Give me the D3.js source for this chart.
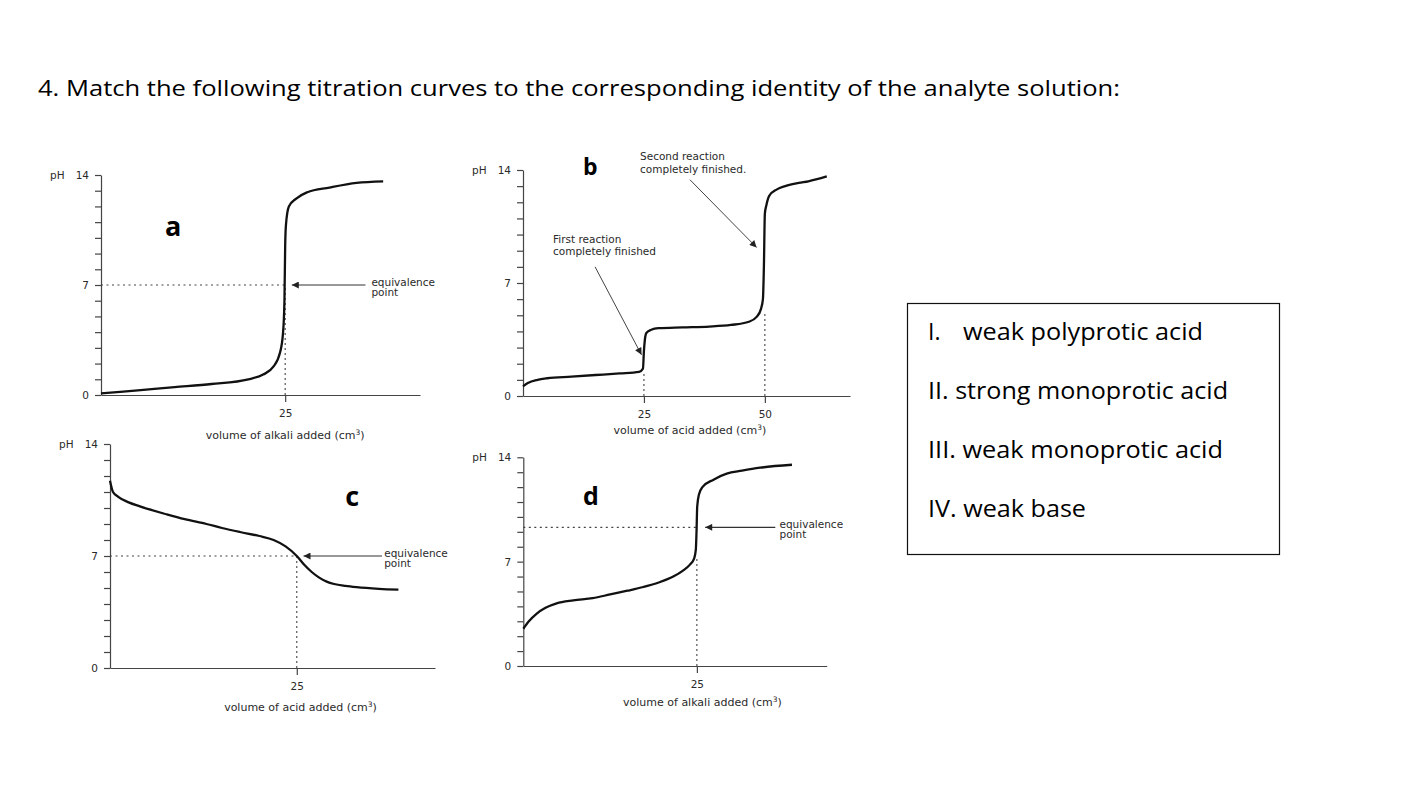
<!DOCTYPE html>
<html>
<head>
<meta charset="utf-8">
<script src="https://cdn.jsdelivr.net/npm/d3@7"></script>
<style>
  body { margin: 0; background: #fff; }
  svg { display: block; }
  .small { font-family: "DejaVu Sans", sans-serif; font-size: 10.5px; fill: #2a2a2a; }
  .axtitle { font-family: "DejaVu Sans", sans-serif; font-size: 11px; fill: #2a2a2a; }
  .tick text { font-family: "DejaVu Sans", sans-serif; font-size: 10.5px; fill: #2a2a2a; }
  .tick line, .domain { stroke: #444; stroke-width: 1.2; }
</style>
</head>
<body>
<svg width="1402" height="812"></svg>
<script>
// question text
const titleText = "4. Match the following titration curves to the corresponding identity of the analyte solution:";
const choiceNums = ["I.", "II.", "III.", "IV."];
const choiceNames = ["weak polyprotic acid", "strong monoprotic acid", "weak monoprotic acid", "weak base"];

// curve a : strong acid + alkali
const aVol = [0, 5, 10, 15, 20, 22, 23.4, 24.3, 24.7, 24.9, 25.0, 25.1, 25.5, 26.5, 28, 31, 34.7, 38.3];
const aPH  = [0.1, 0.3, 0.5, 0.7, 1.0, 1.3, 1.8, 2.7, 3.9, 6.0, 9.5, 10.8, 12.0, 12.5, 12.9, 13.2, 13.5, 13.6];

// curve b : two steps
const bVol = [0, 1, 3, 5, 10, 15, 20, 24, 24.8, 25.0, 25.2, 25.5, 26.5, 28, 33, 38.5, 43, 46.7, 48.3, 49.2, 49.6, 49.8, 50.0, 50.3, 50.9, 52.5, 54.2, 57, 59, 62.8];
const bPH  = [0.6, 0.8, 1.0, 1.1, 1.2, 1.3, 1.4, 1.5, 1.7, 2.8, 3.5, 3.9, 4.1, 4.2, 4.25, 4.3, 4.4, 4.6, 4.9, 5.4, 6.0, 8.0, 11.3, 11.8, 12.4, 12.8, 13.0, 13.2, 13.3, 13.6];

// curve c : base + acid
const cVol = [0, 0.4, 1.1, 2.5, 4, 7.6, 10, 12.9, 15, 17.4, 20, 21.9, 23.5, 25, 26, 27, 28, 29, 30, 31.5, 33, 36, 38.6];
const cPH  = [11.7, 11.0, 10.7, 10.35, 10.1, 9.6, 9.3, 9.0, 8.75, 8.5, 8.25, 8.0, 7.6, 7.0, 6.45, 6.0, 5.65, 5.4, 5.25, 5.13, 5.05, 4.95, 4.9];

// curve d : weak acid + alkali
const dVol = [0, 0.8, 1.9, 3.2, 4.8, 7.2, 10, 12.5, 15, 17.3, 19.5, 21.6, 23, 24, 24.6, 24.85, 24.95, 25.05, 25.3, 25.8, 27.4, 29.3, 31.5, 34.1, 38.7];
const dPH  = [2.5, 3.0, 3.5, 3.9, 4.2, 4.4, 4.55, 4.8, 5.05, 5.3, 5.6, 6.0, 6.4, 6.8, 7.2, 7.8, 9.0, 10.7, 11.5, 12.0, 12.5, 12.9, 13.1, 13.3, 13.5];

const phTicks = d3.range(0, 15);
const phLabels = [0, 7, 14];

const svg = d3.select("svg");

svg.append("defs").append("marker")
    .attr("id", "arrow")
    .attr("viewBox", "0 -5 10 10")
    .attr("refX", 10)
    .attr("refY", 0)
    .attr("markerWidth", 10)
    .attr("markerHeight", 7)
    .attr("markerUnits", "userSpaceOnUse")
    .attr("orient", "auto")
    .append("path")
    .attr("d", "M0,-5L10,0L0,5Z")
    .attr("fill", "#222");

// title
svg.append("text")
    .attr("x", 38).attr("y", 96)
    .attr("font-family", "Open Sans, sans-serif")
    .attr("font-size", 21.5)
    .attr("textLength", 1082)
    .attr("lengthAdjust", "spacingAndGlyphs")
    .attr("fill", "#000")
    .text(titleText);

// answer box
const box = svg.append("g");
box.append("rect")
    .attr("x", 907.5).attr("y", 303.5)
    .attr("width", 372).attr("height", 251)
    .attr("fill", "none").attr("stroke", "#111").attr("stroke-width", 1.2);

const choiceWidths = [240, 300, 295, 158];
choiceNums.forEach((n, i) => {
    const yb = 340 + i * 59;
    if (i === 0) {
        box.append("text").attr("x", 928).attr("y", yb)
            .attr("font-family", "Open Sans, sans-serif").attr("font-size", 23)
            .text(n);
        box.append("text").attr("x", 963).attr("y", yb)
            .attr("font-family", "Open Sans, sans-serif").attr("font-size", 23)
            .attr("textLength", choiceWidths[0]).attr("lengthAdjust", "spacingAndGlyphs")
            .text(choiceNames[i]);
    } else {
        box.append("text").attr("x", 928).attr("y", yb)
            .attr("font-family", "Open Sans, sans-serif").attr("font-size", 23)
            .attr("textLength", choiceWidths[i]).attr("lengthAdjust", "spacingAndGlyphs")
            .text(n + " " + choiceNames[i]);
    }
});

// panel layout
const panels = [
    { letter: "a", vol: aVol, ph: aPH, xMax: 43.3, left: 101, right: 420, top: 175, bottom: 395,
      xTicks: [25], xTitle: "volume of alkali added (cm", titleX: 25, titleDy: 44,
      letterAt: [8.7, 10.1], letterSize: 27,
      dropLines: [{ x: 25, y: 7 }], hLine: { x: 25, y: 7 },
      arrow: { from: [35.9, 7], to: [25.9, 7], text: [36.7, 7] } },
    { letter: "b", vol: bVol, ph: bPH, xMax: 67.6, left: 523, right: 850, top: 170, bottom: 396,
      xTicks: [25, 50], xTitle: "volume of acid added (cm", titleX: 34.5, titleDy: 38,
      letterAt: [12.4, 13.7], letterSize: 23,
      dropLines: [{ x: 25, y: 1.5 }, { x: 50, y: 5.2 }], hLine: null, arrow: null },
    { letter: "c", vol: cVol, ph: cPH, xMax: 43.5, left: 110, right: 435, top: 444, bottom: 668,
      xTicks: [25], xTitle: "volume of acid added (cm", titleX: 25.5, titleDy: 43,
      letterAt: [31.5, 10.1], letterSize: 27,
      dropLines: [{ x: 25, y: 7 }], hLine: { x: 25, y: 7 },
      arrow: { from: [36.4, 7], to: [25.9, 7], text: [36.7, 7] } },
    { letter: "d", vol: dVol, ph: dPH, xMax: 43.7, left: 523.3, right: 826.7, top: 457.3, bottom: 666,
      xTicks: [25], xTitle: "volume of alkali added (cm", titleX: 25.8, titleDy: 40,
      letterAt: [8.6, 10.8], letterSize: 25,
      dropLines: [{ x: 25, y: 7.3 }], hLine: { x: 25, y: 9.3 },
      arrow: { from: [36.3, 9.3], to: [26.2, 9.3], text: [36.9, 9.3] } }
];

panels.forEach(drawPanel);

function drawPanel(p) {
    const g = svg.append("g");
    const x = d3.scaleLinear().domain([0, p.xMax]).range([p.left, p.right]);
    const y = d3.scaleLinear().domain([0, 14]).range([p.bottom, p.top]);

    // dotted guide lines
    p.dropLines.forEach(dl => {
        g.append("line")
            .attr("x1", x(dl.x)).attr("x2", x(dl.x))
            .attr("y1", y(0)).attr("y2", y(dl.y))
            .attr("stroke", "#444").attr("stroke-width", 1.1)
            .attr("stroke-dasharray", "2,3");
    });
    if (p.hLine) {
        g.append("line")
            .attr("x1", x(0)).attr("x2", x(p.hLine.x))
            .attr("y1", y(p.hLine.y)).attr("y2", y(p.hLine.y))
            .attr("stroke", "#444").attr("stroke-width", 1.1)
            .attr("stroke-dasharray", "2,3.5");
    }

    // axes
    g.append("g")
        .attr("transform", `translate(${p.left},0)`)
        .call(d3.axisLeft(y).tickValues(phTicks).tickSize(6).tickSizeOuter(0).tickPadding(6)
            .tickFormat(d => phLabels.includes(d) ? d : ""));
    g.append("g")
        .attr("transform", `translate(0,${p.bottom})`)
        .call(d3.axisBottom(x).tickValues(p.xTicks).tickSize(7).tickSizeOuter(0).tickPadding(8));

    g.append("text").attr("class", "small")
        .attr("x", p.left - 51).attr("y", y(14) + 3.5)
        .text("pH");

    // axis title
    const t = g.append("text").attr("class", "axtitle")
        .attr("x", x(p.titleX)).attr("y", p.bottom + p.titleDy)
        .attr("text-anchor", "middle");
    t.append("tspan").text(p.xTitle);
    t.append("tspan").attr("font-size", 7.5).attr("dy", -4).text("3");
    t.append("tspan").attr("dy", 4).text(")");

    // curve
    const pts = p.vol.map((v, i) => [v, p.ph[i]]);
    g.append("path")
        .datum(pts)
        .attr("fill", "none")
        .attr("stroke", "#111")
        .attr("stroke-width", 2.3)
        .attr("stroke-linejoin", "round")
        .attr("d", d3.line().x(d => x(d[0])).y(d => y(d[1])).curve(d3.curveMonotoneX));

    // panel letter
    g.append("text")
        .attr("x", x(p.letterAt[0])).attr("y", y(p.letterAt[1]))
        .attr("font-family", "Open Sans, sans-serif")
        .attr("font-weight", "bold")
        .attr("font-size", p.letterSize)
        .text(p.letter);

    // equivalence arrow
    if (p.arrow) {
        g.append("line")
            .attr("x1", x(p.arrow.from[0])).attr("y1", y(p.arrow.from[1]))
            .attr("x2", x(p.arrow.to[0])).attr("y2", y(p.arrow.to[1]))
            .attr("stroke", "#333").attr("stroke-width", 1.1)
            .attr("marker-end", "url(#arrow)");
        const lab = g.append("text").attr("class", "small")
            .attr("x", x(p.arrow.text[0])).attr("y", y(p.arrow.text[1]));
        lab.append("tspan").attr("dy", 1).text("equivalence");
        lab.append("tspan").attr("x", x(p.arrow.text[0])).attr("dy", 10).text("point");
    }

    if (p.letter === "b") {
        const notes = [
            { lines: ["First reaction", "completely finished"], at: [6.2, 9.5], from: [14.9, 8.0], to: [24.5, 2.55] },
            { lines: ["Second reaction", "completely finished."], at: [24.2, 14.6], from: [34.5, 13.4], to: [48.3, 9.2] }
        ];
        notes.forEach(n => {
            const tx = g.append("text").attr("class", "small")
                .attr("x", x(n.at[0])).attr("y", y(n.at[1]));
            n.lines.forEach((l, i) => tx.append("tspan")
                .attr("x", x(n.at[0])).attr("dy", i ? 12.5 : 0).text(l));
            g.append("line")
                .attr("x1", x(n.from[0])).attr("y1", y(n.from[1]))
                .attr("x2", x(n.to[0])).attr("y2", y(n.to[1]))
                .attr("stroke", "#444").attr("stroke-width", 1)
                .attr("marker-end", "url(#arrow)");
        });
    }
}
</script>
</body>
</html>
